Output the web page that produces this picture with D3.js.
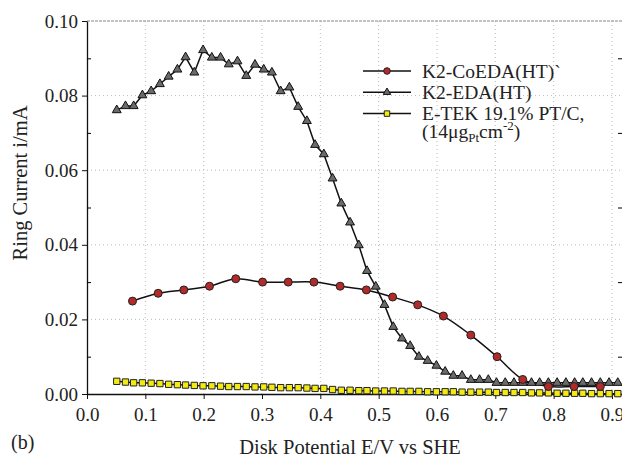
<!DOCTYPE html>
<html>
<head>
<meta charset="utf-8">
<script src="https://cdn.jsdelivr.net/npm/d3@7"></script>
<style>
  body { margin: 0; background: #fff; }
  text { font-family: 'Liberation Serif' !important; }
</style>
</head>
<body>
<script>
// disk potential (V) shared by the K2-EDA and E-TEK runs
const potential = [0.051, 0.066, 0.080, 0.095, 0.110, 0.125, 0.140, 0.155, 0.169, 0.184,
  0.199, 0.214, 0.229, 0.243, 0.258, 0.273, 0.288, 0.303, 0.317, 0.332,
  0.347, 0.362, 0.377, 0.391, 0.406, 0.421, 0.436, 0.451, 0.466, 0.480,
  0.495, 0.510, 0.525, 0.540, 0.554, 0.569, 0.584, 0.599, 0.614, 0.628,
  0.643, 0.658, 0.673, 0.688, 0.702, 0.717, 0.732, 0.747, 0.762, 0.776,
  0.791, 0.806, 0.821, 0.836, 0.850, 0.865, 0.880, 0.895, 0.910];

const edaCurrent = [0.0761, 0.0772, 0.0772, 0.0801, 0.0812, 0.0831, 0.0851, 0.0870, 0.0903, 0.0862,
  0.0922, 0.0902, 0.0902, 0.0884, 0.0892, 0.0853, 0.0883, 0.0870, 0.0862, 0.0812,
  0.0822, 0.0770, 0.0732, 0.0668, 0.0643, 0.0578, 0.0511, 0.0460, 0.0399, 0.0330,
  0.0288, 0.0239, 0.0180, 0.0149, 0.0129, 0.0100, 0.0089, 0.0076, 0.0060, 0.0049,
  0.0049, 0.0038, 0.0038, 0.0038, 0.0030, 0.0030, 0.0030, 0.0030, 0.0030, 0.0030,
  0.0030, 0.0030, 0.0030, 0.0030, 0.0030, 0.0030, 0.0030, 0.0030, 0.0030];

const etekCurrent = [0.0034, 0.0032, 0.0030, 0.0030, 0.0029, 0.0028, 0.0026, 0.0025, 0.0024, 0.0023,
  0.0022, 0.0022, 0.0021, 0.0020, 0.0020, 0.0020, 0.0019, 0.0019, 0.0018, 0.0017,
  0.0017, 0.0017, 0.0016, 0.0015, 0.0015, 0.0012, 0.0010, 0.0010, 0.0009, 0.0009,
  0.0008, 0.0008, 0.0008, 0.0007, 0.0007, 0.0007, 0.0006, 0.0006, 0.0006, 0.0006,
  0.0005, 0.0005, 0.0005, 0.0005, 0.0004, 0.0004, 0.0004, 0.0004, 0.0003, 0.0003,
  0.0003, 0.0002, 0.0002, 0.0002, 0.0002, 0.0001, 0.0001, 0.0001, 0.0001];

// K2-CoEDA run was sampled more coarsely
const coPotential = [0.078, 0.122, 0.166, 0.210, 0.255, 0.301, 0.345, 0.389, 0.434, 0.479,
  0.524, 0.567, 0.611, 0.658, 0.703, 0.747, 0.791, 0.835, 0.880];
const coCurrent = [0.0249, 0.0270, 0.0279, 0.0289, 0.0309, 0.0300, 0.0300, 0.0300, 0.0289, 0.0279,
  0.0260, 0.0239, 0.0209, 0.0158, 0.0100, 0.0039, 0.0020, 0.0020, 0.0020];

const xTicks = [0, 0.1, 0.2, 0.3, 0.4, 0.5, 0.6, 0.7, 0.8, 0.9];
const yTicks = [0, 0.02, 0.04, 0.06, 0.08, 0.10];
const yMinor = [0.01, 0.03, 0.05, 0.07, 0.09];

const W = 622, H = 457;
const svg = d3.select("body").append("svg")
  .attr("width", W)
  .attr("height", H)
  .style("font-family", "'Liberation Serif'");

const x = d3.scaleLinear().domain([0, 0.92]).range([87, 87 + 583.3 * 0.92]);
const y = d3.scaleLinear().domain([0, 0.1]).range([394, 21]);

// dotted grid
svg.append("g")
  .selectAll("line")
  .data(xTicks.slice(1))
  .join("line")
  .attr("x1", d => x(d)).attr("x2", d => x(d))
  .attr("y1", y(0)).attr("y2", y(0.1))
  .attr("stroke", "#bbb")
  .attr("stroke-dasharray", "1,3");

svg.append("g")
  .selectAll("line")
  .data(yTicks.slice(1, -1))
  .join("line")
  .attr("x1", x(0)).attr("x2", W)
  .attr("y1", d => y(d)).attr("y2", d => y(d))
  .attr("stroke", "#bbb")
  .attr("stroke-dasharray", "1,3");

// top frame, dashed grey
svg.append("line")
  .attr("x1", x(0)).attr("x2", W)
  .attr("y1", y(0.1)).attr("y2", y(0.1))
  .attr("stroke", "#888")
  .attr("stroke-width", 1.2)
  .attr("stroke-dasharray", "3,1");

// axes
const xAxis = svg.append("g")
  .attr("transform", `translate(0,${y(0)})`)
  .call(d3.axisBottom(x).tickValues(xTicks).tickFormat(d3.format(".1f"))
    .tickSize(5).tickPadding(9).tickSizeOuter(0));

const yAxis = svg.append("g")
  .attr("transform", `translate(${x(0)},0)`)
  .call(d3.axisLeft(y).tickValues(yTicks).tickFormat(d3.format(".2f"))
    .tickSize(5).tickPadding(4).tickSizeOuter(0));

svg.append("g")
  .attr("transform", `translate(${x(0)},0)`)
  .call(d3.axisLeft(y).tickValues(yMinor).tickFormat("").tickSize(-4).tickSizeOuter(0))
  .select(".domain").remove();

svg.append("g")
  .attr("transform", `translate(${W + 1},0)`)
  .call(d3.axisRight(y).tickValues(yMinor).tickFormat("").tickSize(-5).tickSizeOuter(0))
  .select(".domain").remove();

[xAxis, yAxis].forEach(g => {
  g.attr("font-family", null);
  g.select(".domain").attr("stroke", "#111").attr("stroke-width", 1.3);
  g.selectAll(".tick line").attr("stroke", "#111");
  g.selectAll("text").attr("font-size", 19).attr("fill", "#222");
});

// axis titles
svg.append("text")
  .attr("x", 350).attr("y", 454)
  .attr("text-anchor", "middle")
  .attr("font-size", 20.5).attr("fill", "#222")
  .text("Disk Potential E/V vs SHE");

svg.append("text")
  .attr("transform", `translate(27,183) rotate(-90)`)
  .attr("text-anchor", "middle")
  .attr("font-size", 20.5).attr("fill", "#222")
  .text("Ring Current i/mA");

svg.append("text")
  .attr("x", 11).attr("y", 449)
  .attr("font-size", 20).attr("fill", "#222")
  .text("(b)");

// series
const line = d3.line().x(d => x(d[0])).y(d => y(d[1]));
const eda = d3.zip(potential, edaCurrent);
const etek = d3.zip(potential, etekCurrent);
const coeda = d3.zip(coPotential, coCurrent);

svg.append("path").datum(etek)
  .attr("d", line)
  .attr("fill", "none").attr("stroke", "#111").attr("stroke-width", 1.5);
svg.append("path").datum(eda)
  .attr("d", line)
  .attr("fill", "none").attr("stroke", "#111").attr("stroke-width", 1.5);
svg.append("path").datum(coeda)
  .attr("d", line.curve(d3.curveCatmullRom))
  .attr("fill", "none").attr("stroke", "#111").attr("stroke-width", 1.5);

const tri = d3.symbol().type(d3.symbolTriangle).size(34);
const sq = d3.symbol().type(d3.symbolSquare).size(40);

svg.append("g").selectAll("path")
  .data(etek)
  .join("path")
  .attr("transform", d => `translate(${x(d[0])},${y(d[1])})`)
  .attr("d", sq)
  .attr("fill", "#f2ea10").attr("stroke", "#222").attr("stroke-width", 1);

svg.append("g").selectAll("path")
  .data(eda)
  .join("path")
  .attr("transform", d => `translate(${x(d[0])},${y(d[1])})`)
  .attr("d", tri)
  .attr("fill", "#6a6a6a").attr("stroke", "#111").attr("stroke-width", 1);

svg.append("g").selectAll("circle")
  .data(coeda)
  .join("circle")
  .attr("cx", d => x(d[0]))
  .attr("cy", d => y(d[1]))
  .attr("r", 4)
  .attr("fill", "#b22a2a").attr("stroke", "#222").attr("stroke-width", 1);

// legend
const legendItems = [
  { label: "K2-CoEDA(HT)`", mark: "circle" },
  { label: "K2-EDA(HT)", mark: "tri" },
  { label: "E-TEK 19.1% PT/C,", mark: "square" }
];
const legend = svg.append("g");
legendItems.forEach((item, i) => {
  const ly = 71 + i * 21.3;
  legend.append("line")
    .attr("x1", 363).attr("x2", 411)
    .attr("y1", ly).attr("y2", ly)
    .attr("stroke", "#111").attr("stroke-width", 1.5);
  if (item.mark === "circle") {
    legend.append("circle").attr("cx", 387).attr("cy", ly).attr("r", 3.3)
      .attr("fill", "#b22a2a").attr("stroke", "#222");
  } else if (item.mark === "tri") {
    legend.append("path").attr("transform", `translate(387,${ly})`)
      .attr("d", d3.symbol().type(d3.symbolTriangle).size(24))
      .attr("fill", "#6a6a6a").attr("stroke", "#111");
  } else {
    legend.append("path").attr("transform", `translate(387,${ly})`)
      .attr("d", d3.symbol().type(d3.symbolSquare).size(30))
      .attr("fill", "#f2ea10").attr("stroke", "#222");
  }
  legend.append("text")
    .attr("x", 422).attr("y", ly + 6.5)
    .attr("font-size", 19.5).attr("fill", "#222")
    .text(item.label);
});

const unit = legend.append("text")
  .attr("x", 422).attr("y", 138)
  .attr("font-size", 19.5).attr("fill", "#222");
unit.append("tspan").text("(14μg");
unit.append("tspan").attr("font-size", 13).attr("dy", 4).text("Pt");
unit.append("tspan").attr("dy", -4).text("cm");
unit.append("tspan").attr("font-size", 13).attr("dy", -8).text("-2");
unit.append("tspan").attr("dy", 8).text(")");

svg.selectAll("text").style("font-family", "'Liberation Serif'");
</script>
</body>
</html>
